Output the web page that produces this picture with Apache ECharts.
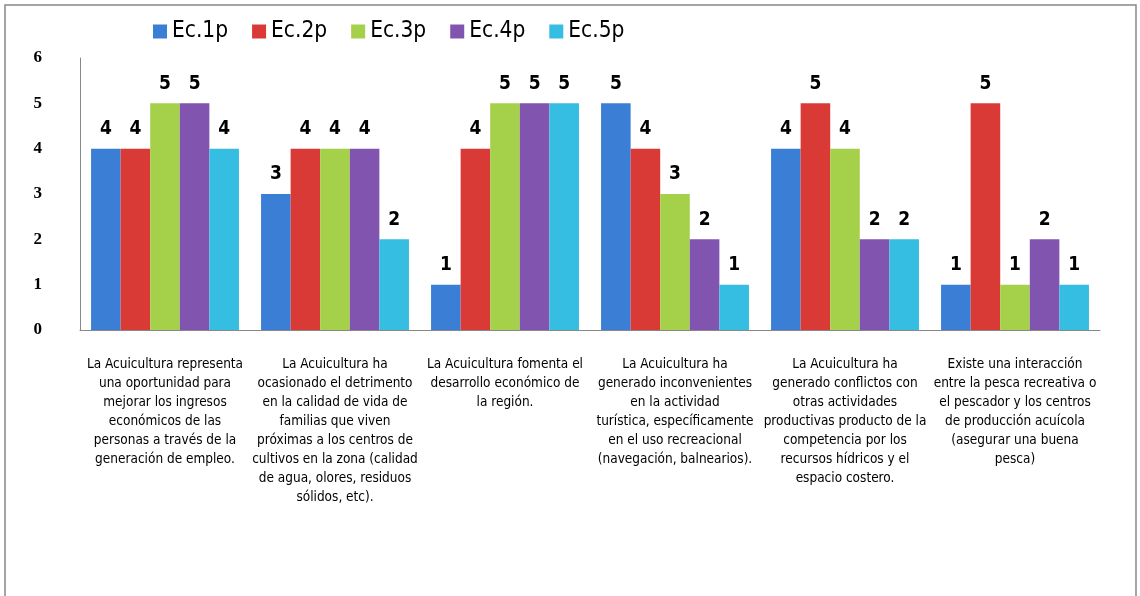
<!DOCTYPE html>
<html><head><meta charset="utf-8">
<script src="https://cdn.jsdelivr.net/npm/echarts@6/dist/echarts.min.js"></script>
<style>html,body{margin:0;padding:0;background:#fff}#c{width:1140px;height:596px}</style>
</head><body><div id="c"></div>
<script>
const categories = [
 "La Acuicultura representa\nuna oportunidad para\nmejorar los ingresos\neconómicos de las\npersonas a través de la\ngeneración de empleo.",
 "La Acuicultura ha\nocasionado el detrimento\nen la calidad de vida de\nfamilias que viven\npróximas a los centros de\ncultivos en la zona (calidad\nde agua, olores, residuos\nsólidos, etc).",
 "La Acuicultura fomenta el\ndesarrollo económico de\nla región.",
 "La Acuicultura ha\ngenerado inconvenientes\nen la actividad\nturística, específicamente\nen el uso recreacional\n(navegación, balnearios).",
 "La Acuicultura ha\ngenerado conflictos con\notras actividades\nproductivas producto de la\ncompetencia por los\nrecursos hídricos y el\nespacio costero.",
 "Existe una interacción\nentre la pesca recreativa o\nel pescador y los centros\nde producción acuícola\n(asegurar una buena\npesca)"
];
const seriesNames = ["Ec.1p","Ec.2p","Ec.3p","Ec.4p","Ec.5p"];
const ec1 = [4,3,1,5,4,1];
const ec2 = [4,4,4,4,5,5];
const ec3 = [5,4,5,3,4,1];
const ec4 = [5,4,5,2,2,2];
const ec5 = [4,2,5,1,2,1];
const colors = ["#3A7FD5","#DA3A36","#A5D04A","#8154B0","#35BDE2"];
const allData = [ec1,ec2,ec3,ec4,ec5];
const narrow = '"Liberation Sans Narrow","DejaVu Sans Condensed",sans-serif';

const chart = echarts.init(document.getElementById('c'));
chart.setOption({
  animation:false,
  color: colors,
  graphic:[{type:'rect',shape:{x:5,y:5,width:1131,height:600},style:{fill:'none',stroke:'#888',lineWidth:1.5},silent:true}],
  legend:{top:15,left:148,itemWidth:14,itemHeight:14,itemGap:24,icon:'rect',
    textStyle:{fontSize:22.5,color:'#000',fontFamily:narrow},
    data:seriesNames},
  grid:{left:80,right:40,top:58,bottom:266},
  xAxis:{type:'category',data:categories,
    axisLine:{lineStyle:{color:'#888'}},axisTick:{show:false},
    axisLabel:{interval:0,fontSize:13.5,lineHeight:19,color:'#000',margin:25,fontFamily:narrow}},
  yAxis:{type:'value',min:0,max:6,interval:1,
    axisLine:{show:true,lineStyle:{color:'#888'}},axisTick:{show:false},splitLine:{show:false},
    axisLabel:{fontSize:17,color:'#000',margin:38,fontFamily:'"Liberation Serif",serif',fontWeight:'bold'}},
  series: seriesNames.map((n,i)=>({
    name:n,type:'bar',data:allData[i],barGap:'0%',barCategoryGap:'13%',
    label:{show:true,position:'top',distance:10,fontSize:19,fontWeight:'bold',color:'#000',fontFamily:narrow}
  }))
});
</script></body></html>
